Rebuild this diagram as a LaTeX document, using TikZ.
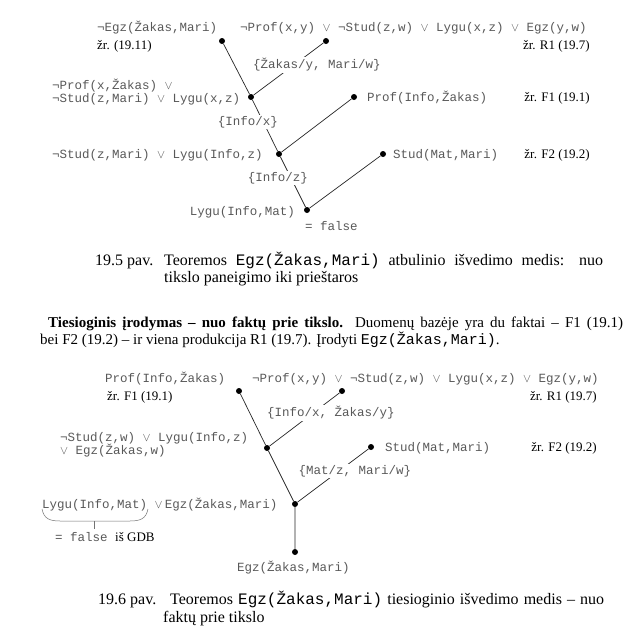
\documentclass[tikz,border=0pt]{standalone}
\usepackage{fontspec}
\setmainfont{Liberation Serif}
\setmonofont{Liberation Mono}
\newcommand{\myor}{$\vee$}
\begin{document}
\begin{tikzpicture}[x=1pt,y=-1pt,
  vtx/.style={circle,fill=black,inner sep=0pt,minimum size=6pt},
  monotxt/.style={font=\fontsize{12.5}{14}\selectfont\ttfamily,text=black!65,inner sep=0pt},
  subst/.style={font=\fontsize{12.5}{14}\selectfont\ttfamily,text=black!65,fill=white,inner sep=1.2pt},
  reftxt/.style={font=\fontsize{13}{15}\selectfont,inner sep=0pt},
  captxt/.style={font=\fontsize{16}{18}\selectfont,inner sep=0pt},
  paratxt/.style={font=\fontsize{15}{17}\selectfont,inner sep=0pt},
  conn/.style={draw=black!85,line width=0.7pt}]

\useasboundingbox[fill=white] (0,0) rectangle (642,643);

% ---------- top tree ----------
\node[vtx] (a) at (222,41) {};
\node[vtx] (b) at (326,41) {};
\node[vtx] (c) at (251,97) {};
\node[vtx] (d) at (354,97) {};
\node[vtx] (e) at (279,154) {};
\node[vtx] (f) at (383,154) {};
\node[vtx] (g) at (307,210) {};

\draw[conn] (a) -- (c) -- (e) -- (g);
\draw[conn] (b) -- (c);
\draw[conn] (d) -- (e);
\draw[conn] (f) -- (g);

\node[monotxt,anchor=base west] (t1) at (97,31) {¬Egz(Žakas,Mari)};
\node[monotxt,anchor=base west] (t2) at (240,31) {¬Prof(x,y) \myor{} ¬Stud(z,w) \myor{} Lygu(x,z) \myor{} Egz(y,w)};
\node[reftxt,anchor=base west] (r1) at (97,49) {žr. (19.11)};
\node[reftxt,anchor=base east] (r2) at (590,49) {žr. R1 (19.7)};
\node[subst] (s1) at (317,65) {\{Žakas/y, Mari/w\}};
\node[monotxt,anchor=base west] (t3) at (52,89.5) {¬Prof(x,Žakas) \myor};
\node[monotxt,anchor=base west] (t4) at (52,102) {¬Stud(z,Mari) \myor{} Lygu(x,z)};
\node[subst] (s2) at (248,122) {\{Info/x\}};
\node[monotxt,anchor=base west] (t5) at (367,101) {Prof(Info,Žakas)};
\node[reftxt,anchor=base east] (r3) at (590,101) {žr. F1 (19.1)};
\node[monotxt,anchor=base west] (t6) at (52,158) {¬Stud(z,Mari) \myor{} Lygu(Info,z)};
\node[monotxt,anchor=base west] (t7) at (393,158) {Stud(Mat,Mari)};
\node[reftxt,anchor=base east] (r4) at (590,158) {žr. F2 (19.2)};
\node[subst] (s3) at (278,178) {\{Info/z\}};
\node[monotxt,anchor=base east] (t8) at (295,215) {Lygu(Info,Mat)};
\node[monotxt,anchor=base west] (t9) at (305,230) {= false};

% ---------- caption 19.5 ----------
\node[captxt,anchor=base west] (c1) at (95,265) {19.5 pav.};
\node[captxt,anchor=base west] (c2) at (164,265) {\makebox[439pt][s]{Teoremos \texttt{Egz(Žakas,Mari)} atbulinio išvedimo medis: nuo}};
\node[captxt,anchor=base west] (c3) at (164,282) {tikslo paneigimo iki prieštaros};

% ---------- paragraph ----------
\node[paratxt,anchor=base west] (p1) at (48,327.5) {\makebox[575pt][s]{\textbf{Tiesioginis įrodymas – nuo faktų prie tikslo.} Duomenų bazėje yra du faktai – F1 (19.1)}};
\node[paratxt,anchor=base west] (p2) at (40,344.5) {bei F2 (19.2) – ir viena produkcija R1 (19.7). Įrodyti \texttt{Egz(Žakas,Mari)}.};

% ---------- bottom tree ----------
\node[vtx] (h) at (239,391) {};
\node[vtx] (i) at (342,391) {};
\node[vtx] (j) at (267,448) {};
\node[vtx] (k) at (371,447) {};
\node[vtx] (l) at (295,504) {};
\node[vtx] (m) at (295,552) {};

\draw[conn] (h) -- (j) -- (l) -- (m);
\draw[conn] (i) -- (j);
\draw[conn] (k) -- (l);

\node[monotxt,anchor=base west] (u1) at (105,382) {Prof(Info,Žakas)};
\node[monotxt,anchor=base west] (u2) at (252,382) {¬Prof(x,y) \myor{} ¬Stud(z,w) \myor{} Lygu(x,z) \myor{} Egz(y,w)};
\node[reftxt,anchor=base west] (q1) at (107,400) {žr. F1 (19.1)};
\node[reftxt,anchor=base east] (q2) at (597,400) {žr. R1 (19.7)};
\node[subst] (v1) at (331,413) {\{Info/x, Žakas/y\}};
\node[monotxt,anchor=base west] (u3) at (60,441) {¬Stud(z,w) \myor{} Lygu(Info,z)};
\node[monotxt,anchor=base west] (u4) at (60,454) {\myor{} Egz(Žakas,w)};
\node[monotxt,anchor=base west] (u5) at (385,451) {Stud(Mat,Mari)};
\node[reftxt,anchor=base east] (q3) at (597,451) {žr. F2 (19.2)};
\node[subst] (v2) at (355,471) {\{Mat/z, Mari/w\}};
\node[monotxt,anchor=base west] (u6) at (42,508) {Lygu(Info,Mat) \myor\,Egz(Žakas,Mari)};
\draw[black!55,line width=0.5pt] (42,509) .. controls (44,519) and (50,521) .. (60,521) -- (130,521) .. controls (140,521) and (146,519) .. (148,509);
\draw[black!55,line width=0.5pt] (94,521) -- (94,529);
\node[monotxt,anchor=base west] (u7) at (55,541) {= false\ {\rmfamily\fontsize{13}{15}\selectfont\color{black} iš GDB}};
\node[monotxt,anchor=base west] (u8) at (237,571) {Egz(Žakas,Mari)};

% ---------- caption 19.6 ----------
\node[captxt,anchor=base west] (d1) at (98,604) {19.6 pav.};
\node[captxt,anchor=base west] (d2) at (170,604) {\makebox[434pt][s]{Teoremos \texttt{Egz(Žakas,Mari)} tiesioginio išvedimo medis – nuo}};
\node[captxt,anchor=base west] (d3) at (163,622) {faktų prie tikslo};
\end{tikzpicture}
\end{document}
